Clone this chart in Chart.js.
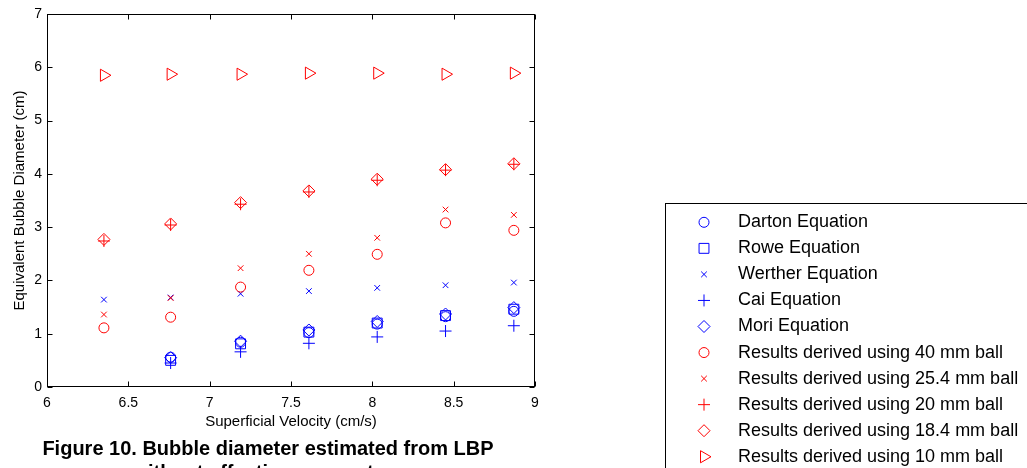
<!DOCTYPE html>
<html><head><meta charset="utf-8">
<script src="https://cdn.jsdelivr.net/npm/chart.js@4"></script>
<style>
html,body{margin:0;padding:0;background:#fff;overflow:hidden;width:1027px;height:468px}
#wrap{position:relative;width:1027px;height:468px;overflow:hidden}
canvas{position:absolute;left:0;top:0}
#cap{position:absolute;left:0;width:536px;top:436px;text-align:center;font:bold 20px "Liberation Sans",Arial,sans-serif;line-height:24px;color:#000}
</style></head><body>
<div id="wrap"><canvas id="c" width="1027" height="468"></canvas>
<div id="cap">Figure 10. Bubble diameter estimated from LBP<br>without effective parameters</div></div>
<script>
// ---- data ----
const velocity = [6.35, 6.76, 7.19, 7.61, 8.03, 8.45, 8.87];
const darton  = [null, 0.56, 0.84, 1.02, 1.18, 1.32, 1.42];
const rowe    = [null, 0.50, 0.81, 1.03, 1.20, 1.34, 1.46];
const werther = [1.64, 1.68, 1.75, 1.80, 1.86, 1.91, 1.96];
const cai     = [null, 0.45, 0.66, 0.82, 0.94, 1.05, 1.15];
const mori    = [null, 0.55, 0.86, 1.07, 1.23, 1.37, 1.49];
const ball40  = [1.11, 1.31, 1.875, 2.19, 2.49, 3.08, 2.94];
const ball254 = [1.36, 1.67, 2.23, 2.50, 2.80, 3.33, 3.23];
const ball20  = [2.74, 3.04, 3.43, 3.66, 3.88, 4.07, 4.18];
const ball184 = [2.77, 3.06, 3.46, 3.68, 3.90, 4.08, 4.19];
const ball10  = [5.85, 5.87, 5.87, 5.89, 5.89, 5.87, 5.89];
const xTickLabels = ['6', '6.5', '7', '7.5', '8', '8.5', '9'];
const yTickLabels = ['0', '1', '2', '3', '4', '5', '6', '7'];
const seriesLabels = ['Darton Equation', 'Rowe Equation', 'Werther Equation', 'Cai Equation', 'Mori Equation',
  'Results derived using 40 mm ball', 'Results derived using 25.4 mm ball', 'Results derived using 20 mm ball',
  'Results derived using 18.4 mm ball', 'Results derived using 10 mm ball'];

const BLUE = '#0000ff', RED = '#ff0000';
function pts(vals) {
  return velocity.map((x, i) => vals[i] == null ? null : {x: x, y: vals[i]}).filter(p => p);
}
let idx = 0;
function ds(label, vals, color, style, r, rot) {
  idx++;
  return {label: label, data: pts(vals), borderColor: color, backgroundColor: 'rgba(0,0,0,0)',
    pointStyle: style, pointRadius: r, pointHoverRadius: r, pointBorderWidth: 1, borderWidth: 1,
    pointRotation: rot || 0, showLine: false, order: 20 - idx};
}
const datasets = [
  ds(seriesLabels[0], darton, BLUE, 'circle', 5),
  ds(seriesLabels[1], rowe, BLUE, 'rect', 7),
  ds(seriesLabels[2], werther, BLUE, 'crossRot', 4),
  ds(seriesLabels[3], cai, BLUE, 'cross', 6),
  ds(seriesLabels[4], mori, BLUE, 'rectRot', 6),
  ds(seriesLabels[5], ball40, RED, 'circle', 5),
  ds(seriesLabels[6], ball254, RED, 'crossRot', 4),
  ds(seriesLabels[7], ball20, RED, 'cross', 6),
  ds(seriesLabels[8], ball184, RED, 'rectRot', 6),
  ds(seriesLabels[9], ball10, RED, 'triangle', 7, 90)
];

const FONT = "'Liberation Sans', Arial, sans-serif";
Chart.defaults.font.family = FONT;
Chart.defaults.color = '#000';

const framePlugin = {
  id: 'frame',
  beforeDatasetsDraw(chart) {
    const {ctx, chartArea: a, scales: {x, y}} = chart;
    ctx.save();
    ctx.strokeStyle = '#000';
    ctx.lineWidth = 1;
    const L = Math.round(a.left) + 0.5, R = Math.round(a.right) - 0.5;
    const T = Math.round(a.top) + 0.5, B = Math.round(a.bottom) - 0.5;
    ctx.strokeRect(L, T, R - L, B - T);
    ctx.beginPath();
    x.ticks.forEach(t => {
      const px = Math.round(x.getPixelForValue(t.value)) + 0.5;
      ctx.moveTo(px, B); ctx.lineTo(px, B - 5);
      ctx.moveTo(px, T); ctx.lineTo(px, T + 5);
    });
    y.ticks.forEach(t => {
      const py = Math.round(y.getPixelForValue(t.value)) + 0.5;
      ctx.moveTo(L, py); ctx.lineTo(L + 5, py);
      ctx.moveTo(R, py); ctx.lineTo(R - 5, py);
    });
    ctx.stroke();
    ctx.restore();
  }
};

const legendPlugin = {
  id: 'boxLegend',
  afterDraw(chart) {
    const ctx = chart.ctx;
    ctx.save();
    ctx.fillStyle = '#fff';
    ctx.fillRect(665, 203, 400, 300);
    ctx.strokeStyle = '#000';
    ctx.lineWidth = 1;
    ctx.strokeRect(665.5, 203.5, 400, 300);
    ctx.font = '18px ' + FONT;
    ctx.textBaseline = 'middle';
    ctx.textAlign = 'left';
    chart.data.datasets.forEach((d, i) => {
      const yy = 222.3 + i * 26.05;
      ctx.save();
      ctx.strokeStyle = d.borderColor;
      ctx.fillStyle = 'rgba(0,0,0,0)';
      ctx.lineWidth = 1;
      Chart.helpers.drawPoint(ctx, {pointStyle: d.pointStyle, radius: d.pointRadius, rotation: d.pointRotation, borderWidth: 1}, 704, yy);
      ctx.restore();
      ctx.fillStyle = '#000';
      ctx.fillText(d.label, 738, yy);
    });
    ctx.restore();
  }
};

new Chart(document.getElementById('c'), {
  type: 'scatter',
  data: {datasets: datasets},
  options: {
    responsive: false,
    animation: false,
    devicePixelRatio: 1,
    layout: {padding: {left: 0, top: 14, right: 492, bottom: 0}},
    plugins: {legend: {display: false}, tooltip: {enabled: false}},
    scales: {
      x: {
        type: 'linear', min: 6, max: 9,
        afterFit: s => { s.height = 81; },
        grid: {display: false, drawTicks: false},
        border: {display: false},
        ticks: {stepSize: 0.5, font: {size: 14}, color: '#000', padding: 8,
          callback: (v, i) => xTickLabels[i]},
        title: {display: true, text: 'Superficial Velocity (cm/s)', font: {size: 15}, color: '#000',
          padding: {top: 0, bottom: 37}}
      },
      y: {
        type: 'linear', min: 0, max: 7,
        afterFit: s => { s.width = 47; },
        grid: {display: false, drawTicks: false},
        border: {display: false},
        ticks: {stepSize: 1, font: {size: 14}, color: '#000', padding: 5,
          callback: (v, i) => yTickLabels[i]},
        title: {display: true, text: 'Equivalent Bubble Diameter (cm)', font: {size: 15}, color: '#000',
          padding: {top: 11, bottom: 0}}
      }
    }
  },
  plugins: [framePlugin, legendPlugin]
});
</script>
</body></html>
